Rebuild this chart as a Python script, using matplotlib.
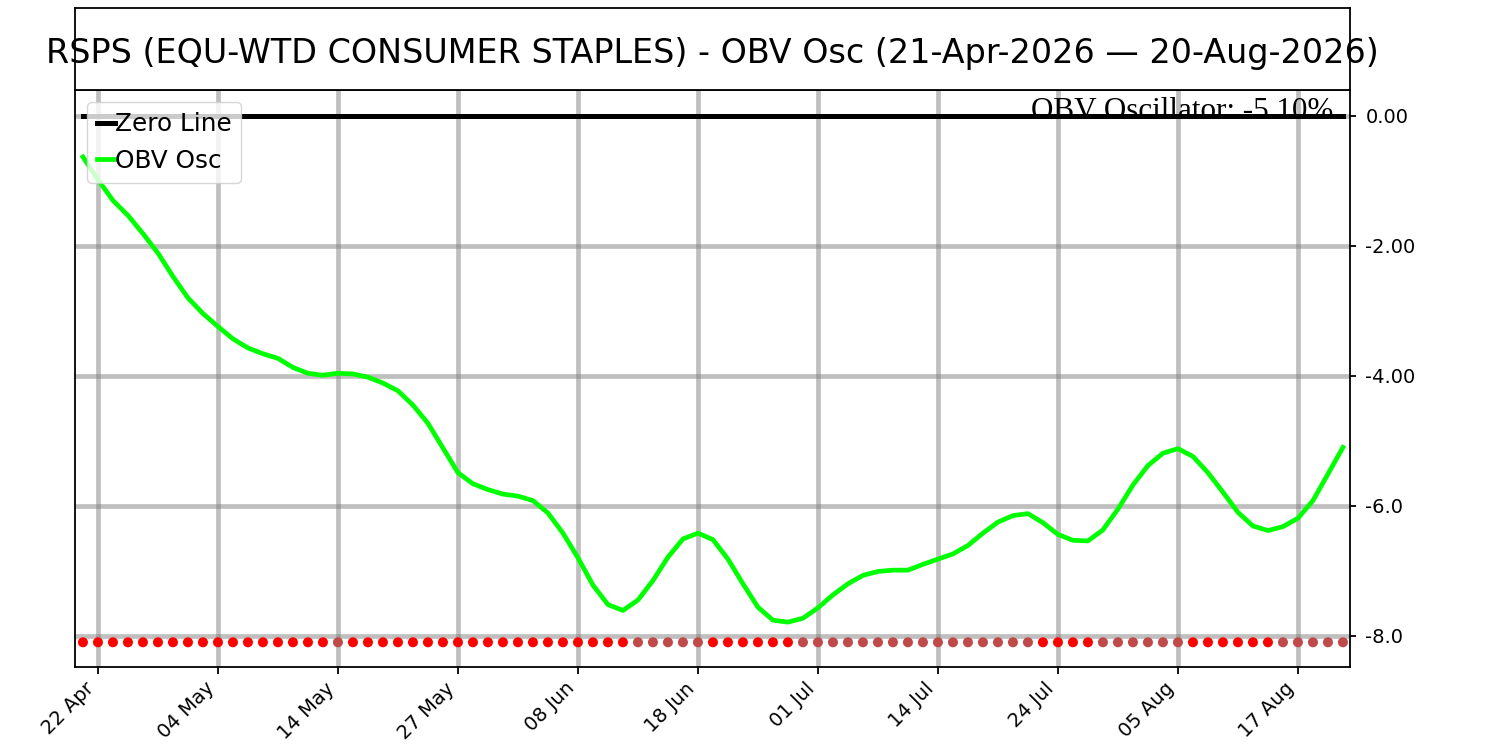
import matplotlib
matplotlib.use("Agg")
import matplotlib.pyplot as plt
import numpy as np
import pandas as pd
import matplotlib.transforms as mtransforms

# ---- data ----
start_date = "2026-04-21"
end_date = "2026-08-20"
market_holidays = ["2026-05-25", "2026-06-19", "2026-07-03"]

obv_osc = [
    -0.63, -0.98, -1.30, -1.53, -1.81, -2.11, -2.47, -2.80, -3.04, -3.24,
    -3.43, -3.57, -3.66, -3.73, -3.87, -3.96, -3.99, -3.96, -3.97, -4.02,
    -4.11, -4.23, -4.45, -4.73, -5.11, -5.49, -5.66, -5.75, -5.82, -5.85,
    -5.92, -6.11, -6.42, -6.80, -7.22, -7.52, -7.61, -7.45, -7.15, -6.79,
    -6.51, -6.42, -6.52, -6.82, -7.20, -7.56, -7.76, -7.79, -7.73, -7.57,
    -7.37, -7.20, -7.07, -7.01, -6.99, -6.99, -6.90, -6.82, -6.74, -6.61,
    -6.42, -6.25, -6.15, -6.12, -6.26, -6.44, -6.53, -6.54, -6.37, -6.05,
    -5.68, -5.38, -5.19, -5.12, -5.24, -5.49, -5.79, -6.10, -6.31, -6.38,
    -6.32, -6.19, -5.92, -5.51, -5.10,
]
# 1 = oscillator rising (muted red dot), 0 = falling (bright red dot)
osc_rising = [
    0, 0, 0, 0, 0, 0, 0, 0, 0, 0, 0, 0, 0, 0, 0, 0, 0, 1, 0, 0,
    0, 0, 0, 0, 0, 0, 0, 0, 0, 0, 0, 0, 0, 0, 0, 0, 0, 1, 1, 1,
    1, 1, 0, 0, 0, 0, 0, 0, 1, 1, 1, 1, 1, 1, 1, 1, 1, 1, 1, 1,
    1, 1, 1, 1, 0, 0, 0, 0, 1, 1, 1, 1, 1, 1, 0, 0, 0, 0, 0, 0,
    1, 1, 1, 1, 1,
]
signal_level = -8.1
yticks = [0.0, -2.0, -4.0, -6.0, -8.0]
ytick_labels = ["0.00", "-2.00", "-4.00", "-6.0", "-8.0"]
tick_step = 8
tick_offset = 1
title = "RSPS (EQU-WTD CONSUMER STAPLES) - OBV Osc (21-Apr-2026 \u2014 20-Aug-2026)"
last_label = "OBV Oscillator: -5.10%"

dates = pd.bdate_range(start_date, end_date, freq="C", holidays=market_holidays)
n = len(obv_osc)
x = np.arange(n)

fig = plt.figure(figsize=(15, 7.5), dpi=100)
ax = fig.add_axes([0.05, 0.1107, 0.85, 0.7693])

ax.grid(True, color="gray", alpha=0.5, linewidth=3.4, zorder=0)
ax.set_axisbelow(True)

ax.plot(x, np.zeros(n), color="black", linewidth=3.6, label="Zero Line", zorder=3)
ax.plot(x, obv_osc, color="#00ff00", linewidth=3.4, label="OBV Osc", zorder=4)

dot_colors = ["#c04a4a" if r else "#ff0000" for r in osc_rising]
ax.scatter(x, np.full(n, signal_level), c=dot_colors, s=52, zorder=5, linewidths=0)

ax.set_xlim(-0.53, n - 1 + 0.47)
ax.set_ylim(-8.48, 0.4)

tick_idx = list(range(tick_offset, n, tick_step))
ax.set_xticks(tick_idx)
ax.set_xticklabels([dates[i].strftime("%d %b") for i in tick_idx],
                   rotation=45, ha="right", fontsize=14)
ax.set_yticks(yticks)
ax.set_yticklabels(ytick_labels, fontsize=14)
ax.yaxis.tick_right()
ax.tick_params(axis="y", length=4, width=1.3, pad=7)
ax.tick_params(axis="x", length=5, width=1.3)
for s in ax.spines.values():
    s.set_linewidth(1.3)

trans = mtransforms.blended_transform_factory(ax.transAxes, ax.transData)
ax.text(0.987, -0.045, last_label, transform=trans, ha="right", va="baseline",
        fontsize=22.4, family="Liberation Serif", zorder=2.5)

leg = ax.legend(loc="upper left", fontsize=17.8, handlelength=0.7,
                handletextpad=0.0, borderaxespad=0.5)

tax = fig.add_axes([0.05, 0.88, 0.85, 0.1093], zorder=10)
tax.set_xticks([])
tax.set_yticks([])
for s in tax.spines.values():
    s.set_linewidth(1.3)
tax.text(0.5, 0.45, title, transform=tax.transAxes, ha="center", va="center",
         fontsize=24, clip_on=False)

fig.savefig("out.png", dpi=100)
